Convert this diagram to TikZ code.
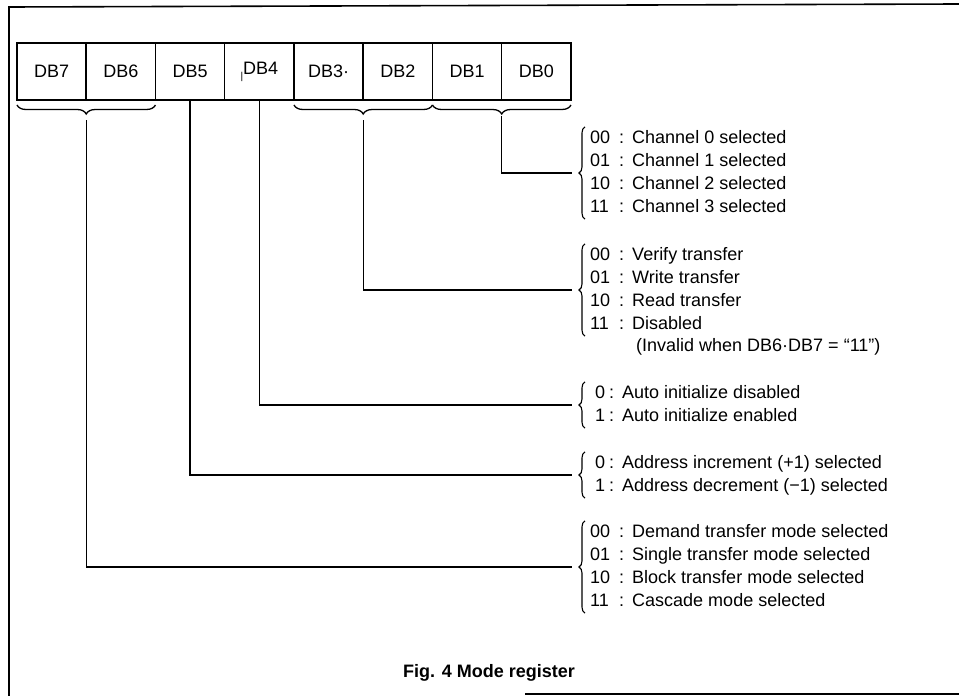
\documentclass[tikz,border=0pt]{standalone}
\usepackage{fontspec}
\setmainfont{Liberation Sans}
\usetikzlibrary{positioning,decorations.pathreplacing}

\begin{document}
\begin{tikzpicture}[x=1pt, y=1pt,
  bitbox/.style={draw=black, rectangle, minimum width=69.25pt, minimum height=57pt,
    inner sep=0pt, outer sep=0pt, line width=1.5pt, font=\fontsize{18}{21}\selectfont},
  grp/.style={anchor=west, inner sep=0pt, font=\fontsize{18}{23}\selectfont},
  wire/.style={line width=1.4pt},
  hbrace/.style={line width=1.3pt, decorate, decoration={brace, mirror, amplitude=9pt}},
  vbrace/.style={line width=1.1pt, decorate, decoration={brace, amplitude=6pt}},
]
\useasboundingbox (0,0) rectangle (959,-696);

%--- frame ---
\draw[line width=1.6pt] (9,-696) -- (9,-7) -- (959,-4);
\draw[line width=1.6pt] (525,-694) -- (959,-694);

%--- register bits ---
\node[bitbox] (b7) at (51.6,-71.5) {DB7};
\node[bitbox, right=0pt of b7] (b6) {DB6};
\node[bitbox, right=0pt of b6] (b5) {DB5};
\node[bitbox, right=0pt of b5] (b4) {\raisebox{-5pt}{\fontsize{10}{10}\selectfont|}DB4};
\node[bitbox, right=0pt of b4] (b3) {DB3·};
\node[bitbox, right=0pt of b3] (b2) {DB2};
\node[bitbox, right=0pt of b2] (b1) {DB1};
\node[bitbox, right=0pt of b1] (b0) {DB0};

%--- braces under bit pairs ---
\draw[hbrace] ([yshift=-5pt]b7.south west) -- ([yshift=-5pt]b6.south east);
\draw[hbrace] ([yshift=-5pt]b3.south west) -- ([yshift=-5pt]b2.south east);
\draw[hbrace] ([yshift=-5pt]b1.south west) -- ([yshift=-5pt]b0.south east);
\coordinate (t76) at ([yshift=-20pt]b7.south east);
\coordinate (t32) at ([yshift=-20pt]b3.south east);
\coordinate (t10) at ([yshift=-16pt]b1.south east);

%--- meaning of each field ---
\node[grp] (chan) at (586,-173) {\begin{tabular}{@{\hspace{4pt}}l@{\hspace{9pt}:\hspace{8pt}}l@{}}
  00 & Channel 0 selected\\ 01 & Channel 1 selected\\
  10 & Channel 2 selected\\ 11 & Channel 3 selected\end{tabular}};
\node[grp] (xfer) at (586,-290) {\begin{tabular}{@{\hspace{4pt}}l@{\hspace{9pt}:\hspace{8pt}}l@{}}
  00 & Verify transfer\\ 01 & Write transfer\\
  10 & Read transfer\\ 11 & Disabled\end{tabular}};
\node[grp] (inval) at (636,-347) {(Invalid when DB6·DB7 = “11”)};
\node[grp] (auto) at (586,-405) {\begin{tabular}{@{\hspace{9pt}}l@{\hspace{4pt}:\hspace{8pt}}l@{}}
  0 & Auto initialize disabled\\ 1 & Auto initialize enabled\end{tabular}};
\node[grp] (addr) at (586,-475) {\begin{tabular}{@{\hspace{9pt}}l@{\hspace{4pt}:\hspace{8pt}}l@{}}
  0 & Address increment (+1) selected\\ 1 & Address decrement (−1) selected\end{tabular}};
\node[grp] (dmd) at (586,-567) {\begin{tabular}{@{\hspace{4pt}}l@{\hspace{9pt}:\hspace{8pt}}l@{}}
  00 & Demand transfer mode selected\\ 01 & Single transfer mode selected\\
  10 & Block transfer mode selected\\ 11 & Cascade mode selected\end{tabular}};

\foreach \g in {chan,xfer,auto,addr,dmd}
  \draw[vbrace] ([xshift=-1pt]\g.south west) -- ([xshift=-1pt]\g.north west);

%--- connectors ---
\draw[wire] (t10) |- ([xshift=-14pt]chan.west);
\draw[wire] (t32) |- ([xshift=-14pt]xfer.west);
\draw[wire] (b4.south) |- ([xshift=-14pt]auto.west);
\draw[wire] (b5.south) |- ([xshift=-14pt]addr.west);
\draw[wire] (t76) |- ([xshift=-14pt]dmd.west);

\node[font=\bfseries\fontsize{18}{21}\selectfont] (cap) at (489,-673) {Fig. 4 Mode register};

\end{tikzpicture}
\end{document}
